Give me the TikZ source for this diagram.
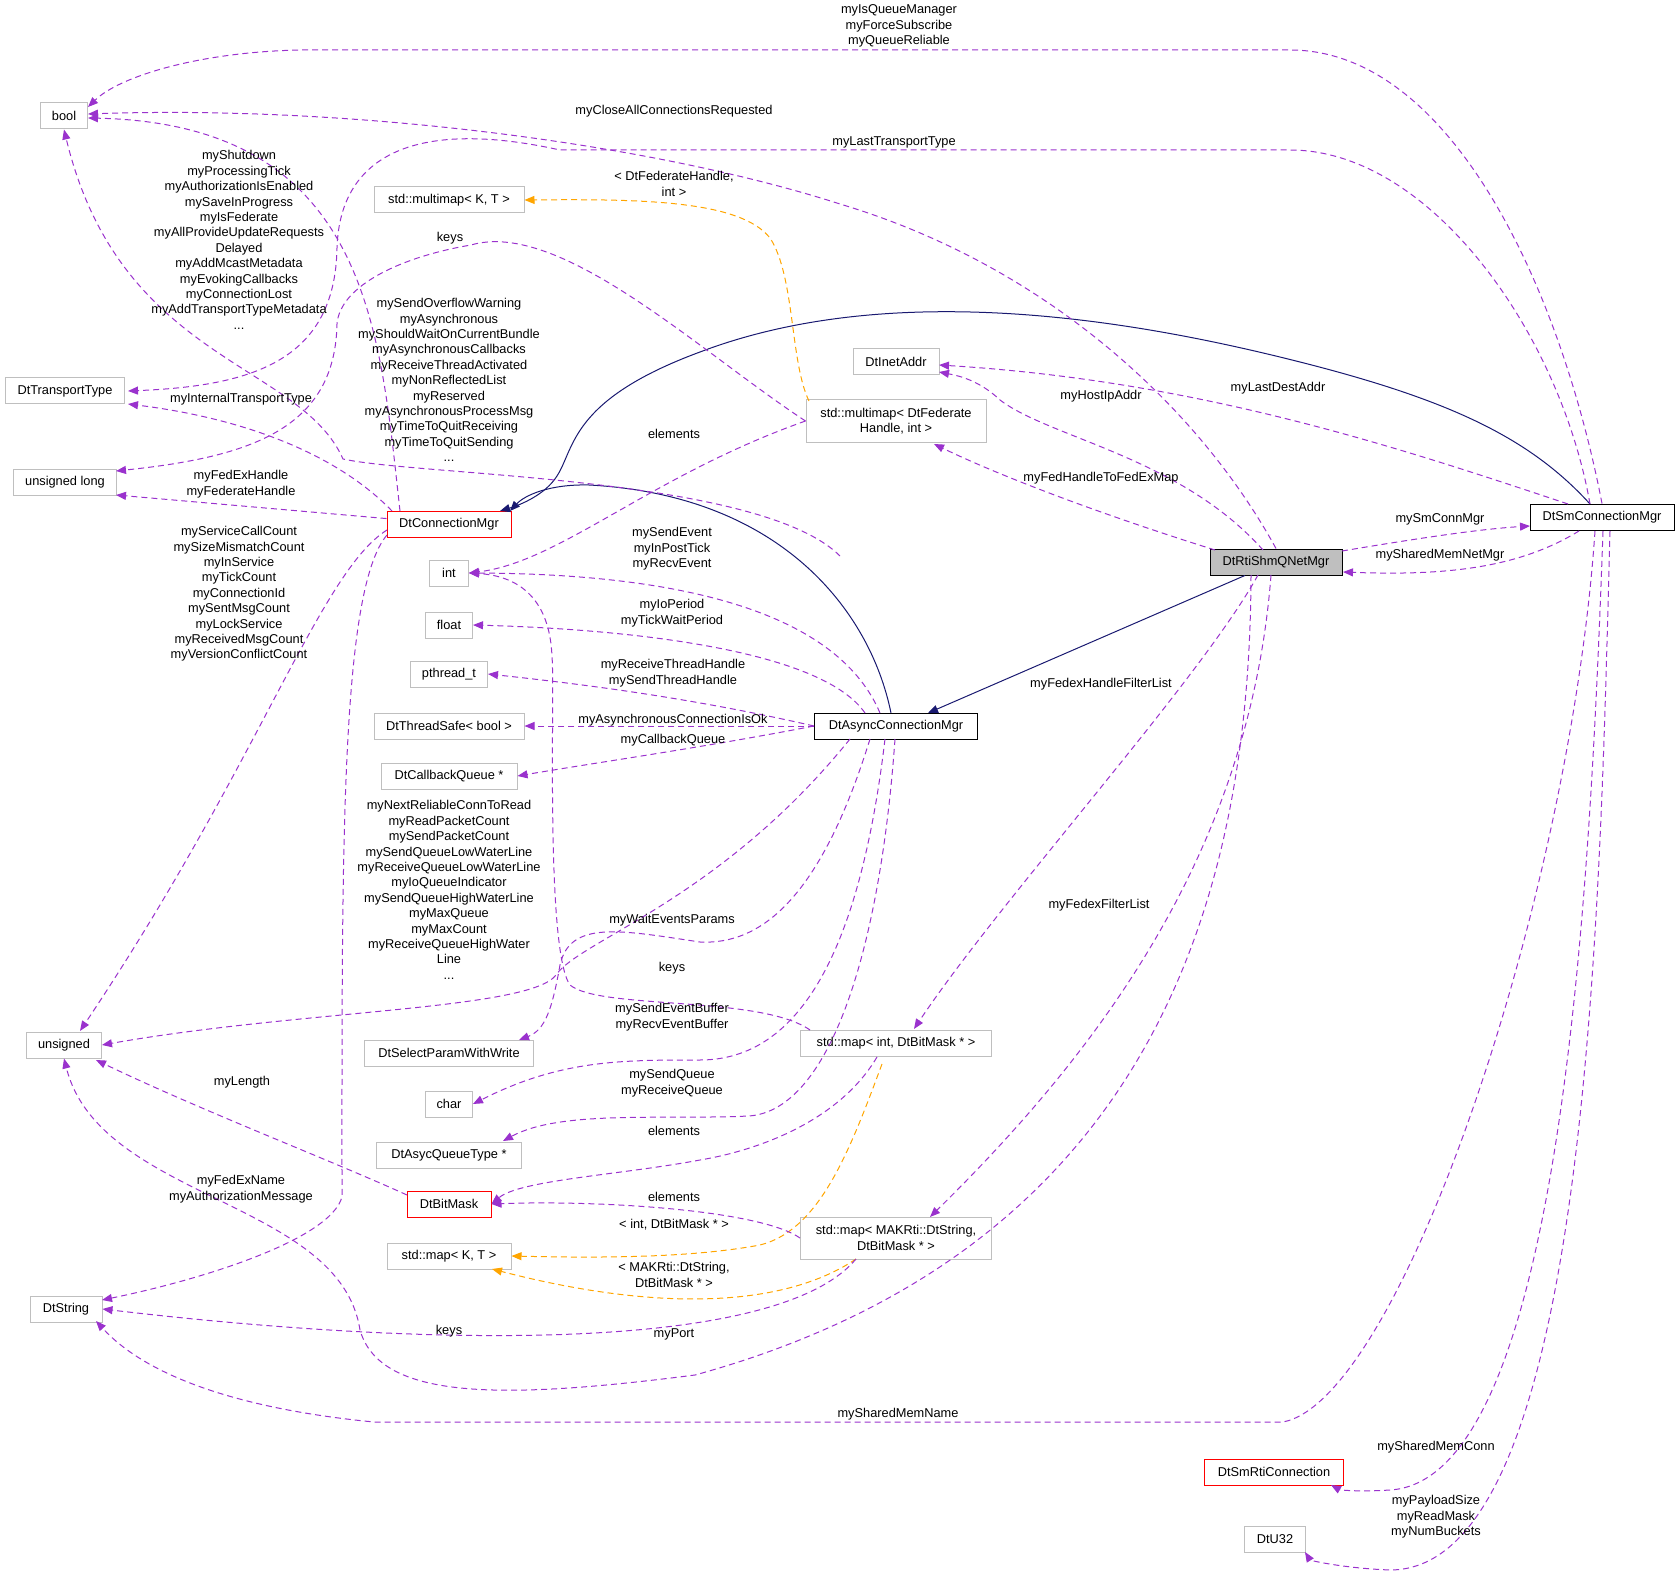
\documentclass[tikz,border=0pt]{standalone}
\usepackage{fontspec}
\setmainfont{Liberation Sans}
\usetikzlibrary{arrows.meta}
\definecolor{dep}{HTML}{9A32CD}
\definecolor{inh}{HTML}{191970}
\definecolor{tpl}{HTML}{FFA500}
\definecolor{frame}{HTML}{BFBFBF}
\begin{document}
\begin{tikzpicture}[x=0.5pt,y=-0.5pt,
                    font=\fontsize{6.4}{7.7}\selectfont,
                    line width=0.5pt]
    \tikzstyle{cls}=[draw=frame,minimum height=13pt,inner sep=1pt,align=center]
    \tikzstyle{red}=[cls,draw=red]
    \tikzstyle{main}=[cls,draw=black]
    \tikzstyle{lbl}=[inner sep=0pt,align=center]
    \tikzstyle{use}=[draw=dep,dashed,dash pattern=on 3pt off 2pt,-{Triangle[length=5pt,width=4pt]},fill=none]
    \tikzstyle{tmpl}=[use,draw=tpl]
    \tikzstyle{base}=[draw=inh,-{Triangle[length=5pt,width=4pt]}]

    \useasboundingbox (0,0) rectangle (1677,1573);

    % classes on the left
    \node[cls,minimum width=23.5pt] (bool) at (64,116) {bool};
    \node[cls,minimum width=59.5pt] (tt) at (65,391) {DtTransportType};
    \node[cls,minimum width=51.5pt] (ulong) at (65,482) {unsigned long};
    \node[cls,minimum width=37.5pt] (uns) at (64,1045) {unsigned};
    \node[cls,minimum width=36pt] (str) at (66,1309) {DtString};

    % middle column
    \node[cls,minimum width=75pt] (mmkt) at (449,200) {std::multimap\textless{} K, T \textgreater};
    \node[red,minimum width=62pt] (conn) at (449,524) {DtConnectionMgr};
    \node[cls,minimum width=19.5pt] (int) at (449,573) {int};
    \node[cls,minimum width=23.5pt] (float) at (449,625) {float};
    \node[cls,minimum width=38.5pt] (pthr) at (449,674) {pthread\_t};
    \node[cls,minimum width=75pt] (tsafe) at (449,726) {DtThreadSafe\textless{} bool \textgreater};
    \node[cls,minimum width=68pt] (cbq) at (449,776) {DtCallbackQueue *};
    \node[cls,minimum width=84.5pt] (sel) at (449,1053) {DtSelectParamWithWrite};
    \node[cls,minimum width=23.5pt] (char) at (449,1104) {char};
    \node[cls,minimum width=72.5pt] (aq) at (449,1155) {DtAsycQueueType *};
    \node[red,minimum width=42pt] (bm) at (449,1204) {DtBitMask};
    \node[cls,minimum width=62pt] (mapkt) at (449,1256) {std::map\textless{} K, T \textgreater};

    % right side
    \node[cls,minimum width=43pt] (inet) at (896,362) {DtInetAddr};
    \node[cls,minimum width=90pt,minimum height=21pt] (mmfed) at (896,421) {std::multimap\textless{} DtFederate\\Handle, int \textgreater};
    \node[main,minimum width=81.5pt] (async) at (896,726) {DtAsyncConnectionMgr};
    \node[cls,minimum width=95.5pt] (mapint) at (896,1043) {std::map\textless{} int, DtBitMask * \textgreater};
    \node[cls,minimum width=95.5pt,minimum height=21pt] (mapmak) at (896,1238) {std::map\textless{} MAKRti::DtString,\\DtBitMask * \textgreater};
    \node[main,fill=frame,minimum width=66pt] (rti) at (1276,562) {DtRtiShmQNetMgr};
    \node[main,minimum width=72pt] (sm) at (1602,517) {DtSmConnectionMgr};
    \node[red,minimum width=69.5pt] (smrti) at (1274,1472) {DtSmRtiConnection};
    \node[cls,minimum width=30.5pt] (u32) at (1275,1539) {DtU32};

    % inheritance
    \draw[base] (rti) -- (928,713);
    \draw[base] (891,713) .. controls (870,610) and (780,495) .. (589,485) .. controls (550,484) and (525,495) .. (510,511);
    \draw[base] (1590,504) .. controls (1530,438) and (1450,400) .. (1300,362) .. controls (1150,324) and (900,276) .. (700,352) .. controls (570,400) and (575,448) .. (557,476) .. controls (545,495) and (520,505) .. (500,511);

    % template instances
    \draw[tmpl] (809,401) .. controls (790,362) and (795,276) .. (770,238) .. controls (740,200) and (640,199) .. (mmkt.east);
    \draw[tmpl] (882,1064) .. controls (850,1150) and (820,1230) .. (760,1245) .. controls (690,1258) and (600,1258) .. (mapkt.east);
    \draw[tmpl] (856,1259) .. controls (780,1310) and (650,1310) .. (492,1269);

    % members
    \draw[use] (sm.north) .. controls (1560,286) and (1450,50) .. (1290,50) -- (300,50) .. controls (200,52) and (120,76) .. (88,107);
    \draw[use] (rti.north) .. controls (1200,410) and (1050,267) .. (840,204) .. controls (650,143) and (350,105) .. (88,114);
    \draw[use] (1590,504) .. controls (1560,333) and (1430,150) .. (1290,150) -- (560,150) .. controls (420,119) and (340,152) .. (337,248) .. controls (335,362) and (250,386) .. (128,391);
    \draw[use] (392,511) .. controls (340,457) and (250,419) .. (128,404);
    \draw[use] (400,511) .. controls (380,333) and (370,124) .. (88,118);
    \draw[use] (840,556) .. controls (760,476) and (420,476) .. (343,459) .. controls (300,362) and (120,362) .. (bool.south);
    \draw[use] (mmfed.west) .. controls (700,352) and (560,219) .. (471,245) .. controls (400,257) and (340,286) .. (337,324) .. controls (335,429) and (250,457) .. (116,471);
    \draw[use] (conn) -- (116,495);
    \draw[use] (mmfed.west) .. controls (650,476) and (560,562) .. (int.east);
    \draw[use] (880,713) .. controls (840,619) and (700,574) .. (int.east);
    \draw[use] (865,713) .. controls (820,648) and (620,629) .. (float.east);
    \draw[use] (async.west) .. controls (700,700) and (600,686) .. (pthr.east);
    \draw[use] (async) -- (tsafe);
    \draw[use] (async.west) .. controls (700,748) and (600,762) .. (cbq.east);
    \draw[use] (387,530) .. controls (320,572) and (260,762) .. (80,1031);
    \draw[use] (387,535) .. controls (340,590) and (342,857) .. (342,1197) .. controls (330,1240) and (200,1280) .. (102,1300);
    \draw[use] (870,739) .. controls (820,900) and (760,945) .. (700,942) .. controls (620,930) and (570,920) .. (560,965) .. controls (552,1010) and (545,1030) .. (519,1040);
    \draw[use] (850,739) .. controls (720,900) and (580,940) .. (556,975) .. controls (530,1010) and (300,1010) .. (uns.east);
    \draw[use] (810,1030) .. controls (760,995) and (600,1010) .. (570,985) .. controls (545,950) and (555,686) .. (552,657) .. controls (550,600) and (520,576) .. (int.east);
    \draw[use] (885,739) .. controls (860,950) and (800,1060) .. (700,1060) .. controls (620,1060) and (560,1060) .. (char.east);
    \draw[use] (895,739) .. controls (880,950) and (830,1110) .. (749,1116) .. controls (660,1120) and (560,1110) .. (503,1141);
    \draw[use] (877,1057) .. controls (840,1120) and (760,1150) .. (700,1160) .. controls (620,1175) and (520,1180) .. (bm.east);
    \draw[use] (mapmak.west) .. controls (760,1210) and (600,1200) .. (bm.east);
    \draw[use] (407,1195) .. controls (330,1160) and (200,1110) .. (96,1060);
    \draw[use] (1258,575) .. controls (1200,680) and (1000,900) .. (914,1029);
    \draw[use] (1271,575) .. controls (1250,850) and (1100,1050) .. (930,1217);
    \draw[use] (856,1259) .. controls (780,1350) and (450,1350) .. (str.east);
    \draw[use] (1251,575) .. controls (1250,900) and (1150,1250) .. (695,1375) .. controls (500,1400) and (380,1400) .. (360,1330) .. controls (340,1200) and (100,1200) .. (uns.south);
    \draw[use] (1595,531) .. controls (1570,900) and (1400,1400) .. (1283,1422) -- (374,1422) .. controls (250,1410) and (150,1380) .. (96,1321);
    \draw[use] (1603,531) .. controls (1590,900) and (1560,1480) .. (1390,1490) .. controls (1360,1492) and (1340,1490) .. (1331,1485);
    \draw[use] (1610,531) .. controls (1600,900) and (1590,1570) .. (1390,1570) .. controls (1340,1568) and (1310,1560) .. (1305,1552);
    \draw[use] (1263,550) .. controls (1180,457) and (1050,438) .. (1000,400) .. controls (980,381) and (960,376) .. (939,372);
    \draw[use] (1568,504) .. controls (1400,448) and (1200,381) .. (939,365);
    \draw[use] (1215,550) .. controls (1100,514) and (1000,476) .. (934,444);
    \draw[use] (1342,551) .. controls (1420,538) and (1480,529) .. (1530,526);
    \draw[use] (1579,531) .. controls (1520,567) and (1450,576) .. (1343,572);

    % labels
    \node[lbl] (lA) at (899,26) {myIsQueueManager\\myForceSubscribe\\myQueueReliable};
    \node[lbl] (lB) at (674,111) {myCloseAllConnectionsRequested};
    \node[lbl] (lC) at (894,142) {myLastTransportType};
    \node[lbl] (lD) at (241,399) {myInternalTransportType};
    \node[lbl] (lE) at (239,240) {myShutdown\\myProcessingTick\\myAuthorizationIsEnabled\\mySaveInProgress\\myIsFederate\\myAllProvideUpdateRequests\\Delayed\\myAddMcastMetadata\\myEvokingCallbacks\\myConnectionLost\\myAddTransportTypeMetadata\\...};
    \node[lbl] (lF) at (449,380) {mySendOverflowWarning\\myAsynchronous\\myShouldWaitOnCurrentBundle\\myAsynchronousCallbacks\\myReceiveThreadActivated\\myNonReflectedList\\myReserved\\myAsynchronousProcessMsg\\myTimeToQuitReceiving\\myTimeToQuitSending\\...};
    \node[lbl] (lG) at (450,238) {keys};
    \node[lbl] (lH) at (241,484) {myFedExHandle\\myFederateHandle};
    \node[lbl] (lI) at (674,434) {elements};
    \node[lbl] (lJ) at (672,549) {mySendEvent\\myInPostTick\\myRecvEvent};
    \node[lbl] (lK) at (672,613) {myIoPeriod\\myTickWaitPeriod};
    \node[lbl] (lL) at (673,673) {myReceiveThreadHandle\\mySendThreadHandle};
    \node[lbl] (lM) at (673,720) {myAsynchronousConnectionIsOk};
    \node[lbl] (lN) at (673,740) {myCallbackQueue};
    \node[lbl] (lO) at (239,594) {myServiceCallCount\\mySizeMismatchCount\\myInService\\myTickCount\\myConnectionId\\mySentMsgCount\\myLockService\\myReceivedMsgCount\\myVersionConflictCount};
    \node[lbl] (lP) at (449,890) {myNextReliableConnToRead\\myReadPacketCount\\mySendPacketCount\\mySendQueueLowWaterLine\\myReceiveQueueLowWaterLine\\myIoQueueIndicator\\mySendQueueHighWaterLine\\myMaxQueue\\myMaxCount\\myReceiveQueueHighWater\\Line\\...};
    \node[lbl] (lQ) at (672,920) {myWaitEventsParams};
    \node[lbl] (lR) at (672,968) {keys};
    \node[lbl] (lS) at (672,1017) {mySendEventBuffer\\myRecvEventBuffer};
    \node[lbl] (lT) at (672,1083) {mySendQueue\\myReceiveQueue};
    \node[lbl] (lU) at (674,1131) {elements};
    \node[lbl] (lV) at (674,1197) {elements};
    \node[lbl] (lW) at (242,1082) {myLength};
    \node[lbl] (lX) at (241,1189) {myFedExName\\myAuthorizationMessage};
    \node[lbl] (lY) at (674,1225) {\textless{} int, DtBitMask * \textgreater};
    \node[lbl] (lZ) at (674,1275) {\textless{} MAKRti::DtString,\\DtBitMask * \textgreater};
    \node[lbl] (la) at (674,184) {\textless{} DtFederateHandle,\\int \textgreater};
    \node[lbl] (lb) at (449,1331) {keys};
    \node[lbl] (lc) at (674,1334) {myPort};
    \node[lbl] (ld) at (898,1414) {mySharedMemName};
    \node[lbl] (le) at (1436,1447) {mySharedMemConn};
    \node[lbl] (lf) at (1436,1517) {myPayloadSize\\myReadMask\\myNumBuckets};
    \node[lbl] (lg) at (1101,396) {myHostIpAddr};
    \node[lbl] (lh) at (1278,388) {myLastDestAddr};
    \node[lbl] (li) at (1101,478) {myFedHandleToFedExMap};
    \node[lbl] (lj) at (1440,519) {mySmConnMgr};
    \node[lbl] (lk) at (1440,555) {mySharedMemNetMgr};
    \node[lbl] (ll) at (1101,684) {myFedexHandleFilterList};
    \node[lbl] (lm) at (1099,905) {myFedexFilterList};
\end{tikzpicture}
\end{document}
